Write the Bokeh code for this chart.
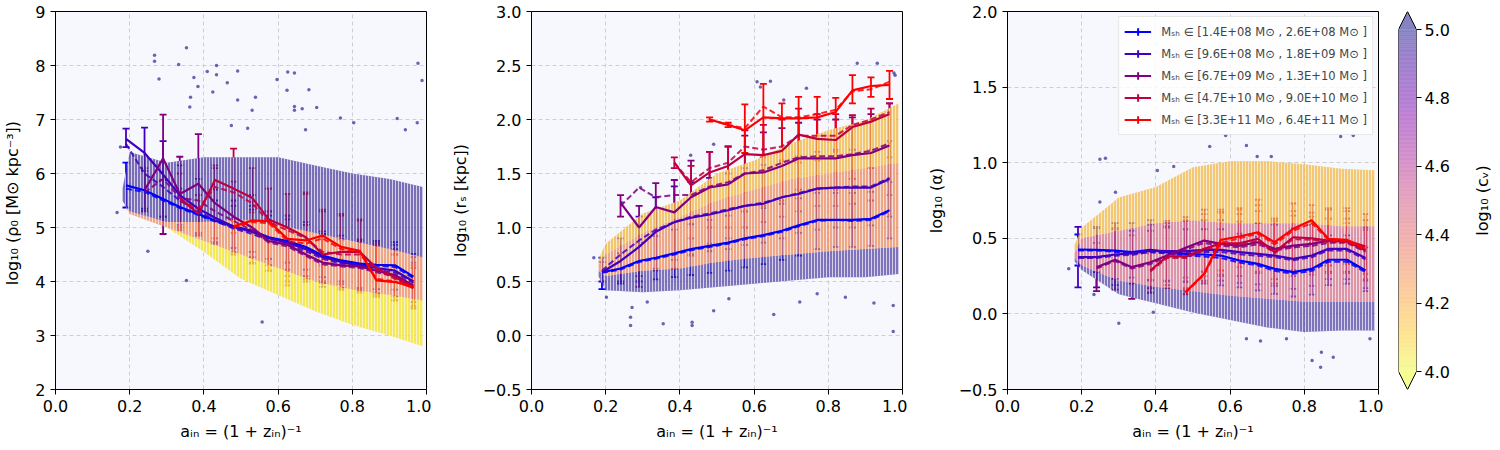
import numpy as np
from bokeh.plotting import figure
from bokeh.models import (Range1d, FixedTicker, Whisker, TeeHead, ColumnDataSource,
                          Legend, LegendItem, CustomJSTickFormatter)
from bokeh.core.properties import value
from bokeh.layouts import row
from bokeh.embed import file_html
from bokeh.resources import INLINE
from bokeh.palettes import Plasma256

nan = float("nan")
FONT = "DejaVu Sans"

# ---------------- data ----------------
A_BINS = [0.19, 0.24, 0.29, 0.335, 0.385, 0.43, 0.48, 0.53, 0.575, 0.625,
          0.675, 0.72, 0.77, 0.82, 0.865, 0.915, 0.965]

MASS_LABELS = [
    "Mₛₕ ∈ [1.4E+08 M⊙ , 2.6E+08 M⊙ ]",
    "Mₛₕ ∈ [9.6E+08 M⊙ , 1.8E+09 M⊙ ]",
    "Mₛₕ ∈ [6.7E+09 M⊙ , 1.3E+10 M⊙ ]",
    "Mₛₕ ∈ [4.7E+10 M⊙ , 9.0E+10 M⊙ ]",
    "Mₛₕ ∈ [3.3E+11 M⊙ , 6.4E+11 M⊙ ]",
]
MASS_COLORS = ["#0000ff", "#4000bf", "#800080", "#bf0040", "#ff0000"]

# ---- panel 1 : log10 rho0 ----
RHO_MED = [
    [5.78, 5.69, 5.53, 5.38, 5.25, 5.13, 5.02, 4.94, 4.82, 4.75, 4.64, 4.48, 4.39, 4.33, 4.31, 4.30, 4.09],
    [6.64, 6.38, 5.98, 5.60, 5.35, 5.18, 5.02, 4.92, 4.80, 4.72, 4.60, 4.45, 4.36, 4.30, 4.25, 4.20, 4.00],
    [nan, 5.69, 6.28, 5.62, 5.81, 5.45, 5.20, 5.00, 4.75, 4.68, 4.50, 4.35, 4.30, 4.28, 4.20, 4.12, 3.92],
    [nan, nan, nan, 5.55, 5.25, 5.88, 5.72, 5.55, 5.15, 5.00, 4.82, 4.50, 4.55, 4.55, 4.25, 4.08, 3.90],
    [nan, nan, nan, nan, nan, nan, 5.02, 5.13, 5.12, 4.79, 4.76, 4.85, 4.64, 4.57, 4.02, 3.99, 3.90],
]
RHO_MEAN = [
    [5.72, 5.66, 5.50, 5.36, 5.23, 5.11, 5.00, 4.92, 4.80, 4.73, 4.62, 4.46, 4.37, 4.31, 4.29, 4.27, 4.06],
    [6.55, 6.00, 5.75, 5.50, 5.30, 5.13, 4.98, 4.88, 4.76, 4.68, 4.56, 4.42, 4.33, 4.27, 4.22, 4.16, 3.97],
    [nan, 5.65, 5.90, 5.55, 5.50, 5.30, 5.12, 4.95, 4.72, 4.65, 4.47, 4.32, 4.28, 4.25, 4.17, 4.10, 3.88],
    [nan, nan, nan, 5.50, 5.35, 5.75, 5.65, 5.45, 5.10, 4.95, 4.80, 4.55, 4.50, 4.50, 4.22, 4.05, 3.87],
    [nan, nan, nan, nan, nan, nan, 5.00, 5.10, 5.08, 4.75, 4.70, 4.80, 4.60, 4.55, 4.05, 4.00, 3.88],
]
RHO_LO = [
    [5.37, 5.35, 5.20, 5.05, 4.90, 4.73, 4.62, 4.55, 4.42, 4.35, 4.22, 4.08, 4.00, 3.88, 3.86, 3.85, 3.62],
    [6.49, 5.31, 5.20, 5.00, 4.85, 4.70, 4.55, 4.45, 4.30, 4.22, 4.10, 3.97, 3.88, 3.82, 3.78, 3.72, 3.55],
    [nan, 5.30, 4.88, 4.95, 4.88, 4.70, 4.50, 4.35, 4.20, 4.10, 4.00, 3.90, 3.85, 3.80, 3.72, 3.65, 3.50],
    [nan, nan, nan, 5.00, 4.90, 4.80, 4.54, 4.33, 4.30, 4.00, 4.05, 4.00, 3.95, 3.85, 3.75, 3.65, 3.55],
    [nan, nan, nan, nan, nan, nan, 4.90, 4.98, 4.20, 3.93, 4.05, 4.30, 3.85, 3.80, 3.72, 3.65, 3.52],
]
RHO_HI = [
    [6.20, 6.05, 5.88, 5.72, 5.60, 5.50, 5.40, 5.33, 5.22, 5.15, 5.05, 4.88, 4.78, 4.76, 4.75, 4.73, 4.51],
    [6.83, 6.85, 6.60, 6.15, 5.90, 5.70, 5.50, 5.40, 5.30, 5.22, 5.10, 4.93, 4.85, 4.78, 4.72, 4.68, 4.45],
    [nan, 6.10, 7.09, 6.31, 6.73, 6.10, 5.85, 5.60, 5.30, 5.22, 5.05, 4.85, 4.78, 4.75, 4.68, 4.60, 4.35],
    [nan, nan, nan, 6.00, 5.60, 6.15, 6.46, 6.10, 5.72, 5.62, 5.62, 5.30, 5.22, 5.13, 4.72, 4.50, 4.25],
    [nan, nan, nan, nan, nan, nan, 5.12, 5.28, 5.72, 5.62, 5.65, 5.33, 5.25, 5.15, 4.70, 4.50, 4.30],
]

# ---- panel 2 : log10 r_s ----
RS_MED = [
    [0.586, 0.62, 0.69, 0.72, 0.76, 0.80, 0.83, 0.86, 0.90, 0.93, 0.97, 1.02, 1.07, 1.07, 1.07, 1.08, 1.16],
    [0.586, 0.69, 0.82, 0.96, 1.05, 1.09, 1.12, 1.16, 1.20, 1.22, 1.28, 1.31, 1.36, 1.37, 1.37, 1.37, 1.45],
    [nan, 1.23, 1.00, 1.19, 1.14, 1.28, 1.37, 1.40, 1.50, 1.51, 1.57, 1.64, 1.64, 1.64, 1.67, 1.69, 1.76],
    [nan, nan, nan, nan, 1.60, 1.39, 1.51, 1.57, 1.68, 1.67, 1.71, 1.86, 1.82, 1.81, 1.93, 1.98, 2.05],
    [nan, nan, nan, nan, nan, nan, 2.00, 1.95, 1.90, 2.02, 2.01, 2.01, 2.02, 2.07, 2.27, 2.31, 2.32],
]
RS_MEAN = [
    [0.58, 0.61, 0.68, 0.71, 0.75, 0.79, 0.82, 0.85, 0.89, 0.92, 0.96, 1.01, 1.06, 1.07, 1.06, 1.07, 1.15],
    [0.60, 0.75, 0.88, 0.98, 1.05, 1.10, 1.13, 1.17, 1.20, 1.23, 1.28, 1.32, 1.36, 1.37, 1.38, 1.38, 1.46],
    [nan, 1.20, 1.37, 1.28, 1.30, 1.30, 1.38, 1.42, 1.50, 1.53, 1.60, 1.65, 1.66, 1.66, 1.68, 1.71, 1.78],
    [nan, nan, nan, nan, 1.60, 1.42, 1.55, 1.60, 1.75, 1.72, 1.75, 1.85, 1.85, 1.85, 1.95, 2.00, 2.07],
    [nan, nan, nan, nan, nan, nan, 2.00, 1.95, 1.92, 2.12, 2.02, 2.02, 2.05, 2.09, 2.26, 2.28, 2.35],
]
RS_LO = [
    [0.43, 0.48, 0.50, 0.52, 0.54, 0.56, 0.58, 0.60, 0.63, 0.66, 0.70, 0.74, 0.80, 0.82, 0.82, 0.83, 0.90],
    [0.50, 0.50, 0.55, 0.62, 0.70, 0.74, 0.78, 0.80, 0.84, 0.86, 0.90, 0.95, 0.98, 1.00, 1.00, 1.02, 1.10],
    [nan, 1.10, 0.45, 0.60, 0.62, 0.75, 0.85, 0.90, 1.00, 1.05, 1.10, 1.15, 1.20, 1.20, 1.22, 1.25, 1.30],
    [nan, nan, nan, nan, 1.55, 0.90, 1.00, 1.00, 1.15, 1.20, 1.25, 1.35, 1.35, 1.35, 1.45, 1.55, 1.65],
    [nan, nan, nan, nan, nan, nan, 1.98, 1.93, 1.69, 1.65, 1.62, 1.60, 1.62, 1.70, 2.15, 2.21, 2.19],
]
RS_HI = [
    [0.72, 0.76, 0.86, 0.92, 0.98, 1.03, 1.07, 1.11, 1.15, 1.18, 1.22, 1.27, 1.32, 1.32, 1.32, 1.33, 1.42],
    [0.68, 0.90, 1.10, 1.28, 1.38, 1.42, 1.46, 1.50, 1.55, 1.58, 1.62, 1.66, 1.70, 1.72, 1.72, 1.72, 1.80],
    [nan, 1.30, 1.20, 1.41, 1.44, 1.62, 1.70, 1.75, 1.85, 1.88, 1.92, 1.97, 2.00, 2.00, 2.02, 2.05, 2.15],
    [nan, nan, nan, nan, 1.65, 1.57, 1.70, 1.75, 1.90, 1.95, 2.00, 2.10, 2.05, 2.05, 2.04, 2.10, 2.15],
    [nan, nan, nan, nan, nan, nan, 2.02, 1.97, 2.14, 2.33, 2.15, 2.21, 2.21, 2.20, 2.41, 2.39, 2.45],
]

# ---- panel 3 : log10 alpha ----
AL_MED = [
    [0.426, 0.423, 0.419, 0.408, 0.423, 0.408, 0.397, 0.393, 0.386, 0.353, 0.331, 0.298, 0.276, 0.298, 0.358, 0.358, 0.287],
    [0.375, 0.375, 0.393, 0.400, 0.419, 0.415, 0.415, 0.423, 0.423, 0.408, 0.397, 0.386, 0.364, 0.386, 0.430, 0.430, 0.370],
    [nan, 0.309, 0.358, 0.309, 0.342, 0.386, 0.437, 0.485, 0.463, 0.452, 0.474, 0.430, 0.452, 0.463, 0.485, 0.480, 0.419],
    [nan, nan, nan, nan, 0.287, 0.380, 0.380, 0.430, 0.467, 0.467, 0.497, 0.408, 0.507, 0.500, 0.485, 0.485, 0.445],
    [nan, nan, nan, nan, nan, nan, 0.144, 0.265, 0.490, 0.512, 0.540, 0.474, 0.563, 0.620, 0.497, 0.490, 0.430],
]
AL_MEAN = [
    [0.420, 0.420, 0.410, 0.400, 0.410, 0.400, 0.385, 0.380, 0.370, 0.340, 0.320, 0.285, 0.265, 0.285, 0.345, 0.345, 0.275],
    [0.370, 0.370, 0.385, 0.390, 0.410, 0.405, 0.405, 0.410, 0.410, 0.395, 0.385, 0.375, 0.355, 0.375, 0.420, 0.420, 0.360],
    [nan, 0.300, 0.350, 0.300, 0.330, 0.375, 0.425, 0.470, 0.450, 0.440, 0.460, 0.420, 0.440, 0.450, 0.470, 0.470, 0.410],
    [nan, nan, nan, nan, 0.280, 0.370, 0.370, 0.420, 0.455, 0.455, 0.485, 0.400, 0.495, 0.490, 0.475, 0.475, 0.435],
    [nan, nan, nan, nan, nan, nan, 0.140, 0.260, 0.470, 0.500, 0.530, 0.460, 0.550, 0.600, 0.490, 0.480, 0.420],
]
AL_LO = [
    [0.320, 0.276, 0.232, 0.240, 0.225, 0.220, 0.210, 0.200, 0.188, 0.176, 0.155, 0.133, 0.115, 0.128, 0.190, 0.200, 0.150],
    [0.175, 0.175, 0.190, 0.200, 0.220, 0.215, 0.215, 0.220, 0.220, 0.205, 0.195, 0.185, 0.165, 0.185, 0.230, 0.230, 0.170],
    [nan, 0.150, 0.160, 0.100, 0.140, 0.190, 0.240, 0.280, 0.260, 0.250, 0.270, 0.230, 0.250, 0.260, 0.280, 0.280, 0.220],
    [nan, nan, nan, nan, 0.170, 0.170, 0.170, 0.210, 0.250, 0.250, 0.280, 0.200, 0.290, 0.280, 0.270, 0.270, 0.230],
    [nan, nan, nan, nan, nan, nan, 0.130, 0.250, 0.287, 0.309, 0.331, 0.300, 0.360, 0.450, 0.320, 0.330, 0.265],
]
AL_HI = [
    [0.525, 0.567, 0.567, 0.550, 0.590, 0.570, 0.560, 0.560, 0.560, 0.530, 0.510, 0.470, 0.440, 0.470, 0.520, 0.520, 0.440],
    [0.575, 0.575, 0.600, 0.600, 0.620, 0.615, 0.615, 0.620, 0.620, 0.610, 0.600, 0.590, 0.565, 0.590, 0.630, 0.630, 0.570],
    [nan, 0.470, 0.560, 0.520, 0.550, 0.580, 0.640, 0.690, 0.670, 0.660, 0.680, 0.630, 0.650, 0.670, 0.690, 0.680, 0.620],
    [nan, nan, nan, nan, 0.400, 0.600, 0.620, 0.660, 0.690, 0.690, 0.720, 0.630, 0.730, 0.720, 0.700, 0.700, 0.660],
    [nan, nan, nan, nan, nan, nan, 0.160, 0.280, 0.675, 0.700, 0.755, 0.613, 0.680, 0.644, 0.630, 0.600, 0.556],
]

# ---- scatter cloud envelopes (read at these a values) ----
CLOUD_A = [0.18, 0.2, 0.3, 0.4, 0.5, 0.6, 0.7, 0.8, 0.9, 0.99]
RHO_CLOUD = [
    [5.50, 5.25, 5.00, 4.55, 4.05, 3.75, 3.45, 3.20, 3.00, 2.80],
    [5.50, 5.25, 5.00, 4.75, 4.50, 4.25, 4.00, 3.85, 3.75, 3.65],
    [5.50, 5.30, 5.10, 5.10, 5.15, 5.05, 4.90, 4.75, 4.60, 4.45],
    [5.70, 6.40, 6.20, 6.30, 6.30, 6.30, 6.15, 6.00, 5.90, 5.75],
]
RS_CLOUD = [
    [0.55, 0.42, 0.40, 0.42, 0.45, 0.48, 0.51, 0.54, 0.54, 0.57],
    [0.60, 0.55, 0.60, 0.62, 0.68, 0.72, 0.75, 0.78, 0.80, 0.82],
    [0.65, 0.75, 0.95, 1.10, 1.25, 1.35, 1.45, 1.50, 1.55, 1.60],
    [0.70, 0.85, 1.13, 1.25, 1.50, 1.62, 1.78, 1.90, 1.99, 2.15],
]
AL_CLOUD = [
    [0.35, 0.29, 0.13, 0.07, 0.01, -0.04, -0.09, -0.12, -0.11, -0.11],
    [0.37, 0.32, 0.22, 0.18, 0.15, 0.12, 0.10, 0.08, 0.08, 0.08],
    [0.40, 0.50, 0.55, 0.60, 0.62, 0.60, 0.60, 0.60, 0.58, 0.58],
    [0.45, 0.57, 0.77, 0.84, 0.97, 1.01, 1.01, 0.99, 0.96, 0.95],
]

# ---- isolated points outside the cloud ----
RHO_OUT_A = [0.267, 0.267, 0.279, 0.332, 0.353, 0.409, 0.434, 0.434, 0.463, 0.491, 0.384, 0.373, 0.424,
             0.364, 0.362, 0.530, 0.539, 0.491, 0.597, 0.624, 0.626, 0.644, 0.644, 0.644, 0.683, 0.665,
             0.674, 0.704, 0.768, 0.804, 0.921, 0.977, 0.988, 0.975, 0.943, 0.353, 0.249, 0.166, 0.175,
             0.557, 0.518, 0.474]
RHO_OUT_Y = [8.19, 8.08, 7.75, 8.02, 8.33, 7.89, 8.00, 7.83, 7.68, 7.90, 7.61, 7.78, 7.51,
             7.41, 7.23, 7.17, 7.41, 7.36, 7.74, 7.54, 7.88, 7.86, 7.24, 7.17, 7.55, 7.20,
             6.81, 7.22, 7.03, 6.94, 7.02, 8.04, 7.72, 6.94, 6.81, 4.02, 4.56, 5.28, 6.49,
             3.25, 6.84, 6.89]
RS_OUT_A = [0.267, 0.267, 0.355, 0.433, 0.433, 0.491, 0.653, 0.975, 0.975, 0.923, 0.846, 0.770,
            0.723, 0.532, 0.312, 0.271, 0.202, 0.168, 0.608, 0.644, 0.617, 0.741, 0.878, 0.932,
            0.977, 0.980, 0.680, 0.491, 0.429, 0.294, 0.244]
RS_OUT_Y = [0.093, 0.17, 0.108, 0.093, 0.123, 0.23, 0.195, 0.037, 0.278, 0.30, 0.355, 0.386,
            0.31, 0.34, 0.31, 0.26, 0.355, 0.72, 2.35, 2.355, 2.30, 2.29, 2.52, 2.52,
            2.43, 2.41, 2.18, 1.77, 1.67, 1.37, 1.23]
AL_OUT_A = [0.844, 0.821, 0.878, 0.846, 0.682, 0.644, 0.752, 0.977, 0.300, 0.233, 0.249, 0.249,
            0.291, 0.165, 0.545, 0.588, 0.898, 0.932, 0.644, 0.673, 0.711, 0.393, 0.404, 0.448, 0.264]
AL_OUT_Y = [-0.353, -0.308, -0.286, -0.253, -0.18, -0.165, -0.165, -0.165, -0.062, 0.128, 1.023, 0.74,
            0.805, 0.298, 1.107, 1.18, 1.173, 1.18, 1.114, 1.041, 1.041, 0.011, 0.948, 0.975, 1.03]

CB_TICKS = [4.0, 4.2, 4.4, 4.6, 4.8, 5.0]
CB_LABEL = "log₁₀ (cᵥ)"

# ---------------- styling helpers ----------------
BG = "#f7f8fe"
PURPLE = "#3f2c98"
MAGENTA = "#d2647e"
ORANGE = "#ec8656"
GOLD = "#f2b63c"
YELLOW = "#f3e22e"
TICK_FS = "16px"


def blend(hexcol, alpha=0.5):
    h = hexcol.lstrip("#")
    r, g, b = int(h[0:2], 16), int(h[2:4], 16), int(h[4:6], 16)
    r = int(round(r * alpha + 255 * (1 - alpha)))
    g = int(round(g * alpha + 255 * (1 - alpha)))
    b = int(round(b * alpha + 255 * (1 - alpha)))
    return "#%02x%02x%02x" % (r, g, b)


def style_axes(p, fmt_digits):
    for ax in p.axis:
        ax.major_tick_out = 5
        ax.major_tick_in = 0
        ax.minor_tick_out = 0
        ax.minor_tick_in = 0
        ax.axis_line_color = "black"
        ax.major_tick_line_color = "black"
        ax.major_label_text_font = FONT
        ax.major_label_text_font_size = TICK_FS
        ax.major_label_text_color = "black"
        ax.axis_label_text_font = FONT
        ax.axis_label_text_font_size = TICK_FS
        ax.axis_label_text_font_style = "normal"
        ax.axis_label_text_color = "black"
        ax.major_label_standoff = 5
    p.yaxis.axis_label_standoff = 10
    p.xaxis.axis_label_standoff = 7
    p.xaxis.ticker = FixedTicker(ticks=[0.0, 0.2, 0.4, 0.6, 0.8, 1.0])
    p.xaxis.formatter = CustomJSTickFormatter(code="return tick.toFixed(1);")
    p.yaxis.formatter = CustomJSTickFormatter(
        code="return tick.toFixed(%d).replace('-', '\\u2212');" % fmt_digits)
    p.grid.grid_line_color = "#c4c4c4"
    p.grid.grid_line_dash = "4 3"
    p.grid.grid_line_width = 0.8
    p.outline_line_color = "black"
    p.outline_line_width = 1
    p.outline_line_alpha = 1


def make_panel(yr, yticks, digits, ylabel, cloud, band_cols, out_a, out_y,
               med, mean, lo, hi, left):
    p = figure(frame_width=371, frame_height=378, x_range=Range1d(0, 1),
               y_range=Range1d(*yr), output_backend="svg", toolbar_location=None,
               min_border_left=left, min_border_right=5, min_border_top=11,
               min_border_bottom=58, background_fill_color=BG,
               border_fill_color="white")
    style_axes(p, digits)
    p.yaxis.ticker = FixedTicker(ticks=yticks)
    p.xaxis.axis_label = "aᵢₙ = (1 + zᵢₙ)⁻¹"
    p.yaxis.axis_label = ylabel

    # cloud of individual subhaloes, drawn as layered bands
    for i in range(3):
        col, alp = band_cols[i]
        p.varea(x=CLOUD_A, y1=cloud[i], y2=cloud[i + 1], fill_color=col,
                fill_alpha=alp, hatch_pattern="vertical_line", hatch_color=BG,
                hatch_alpha=0.7, hatch_scale=3, hatch_weight=1)
    p.scatter(out_a, out_y, size=3.5, marker="circle", fill_color="#2d2391",
              fill_alpha=0.7, line_color=None)

    a = np.array(A_BINS)
    line_rs = []
    for k in range(5):
        m = np.array(med[k])
        ok = ~np.isnan(m)
        c = MASS_COLORS[k]
        src = ColumnDataSource(dict(x=a[ok], lo=np.array(lo[k])[ok],
                                    hi=np.array(hi[k])[ok]))
        w = Whisker(base="x", lower="lo", upper="hi", source=src,
                    dimension="height", line_color=c, line_width=1.8,
                    upper_head=TeeHead(size=7, line_color=c, line_width=1.8),
                    lower_head=TeeHead(size=7, line_color=c, line_width=1.8))
        p.add_layout(w)
        r = p.line(a[ok], m[ok], line_color=c, line_width=2.2)
        p.line(a[ok], np.array(mean[k])[ok], line_color=c, line_width=2,
               line_dash="6 3", line_alpha=0.85)
        line_rs.append(r)
    return p, line_rs


p1, _ = make_panel((2, 9), [2, 3, 4, 5, 6, 7, 8, 9], 0,
                   "log₁₀ (ρ₀ [M⊙  kpc⁻³])", RHO_CLOUD,
                   [(YELLOW, 0.8), (ORANGE, 0.72), (PURPLE, 0.68)],
                   RHO_OUT_A, RHO_OUT_Y, RHO_MED, RHO_MEAN, RHO_LO, RHO_HI, 55)
p2, _ = make_panel((-0.5, 3.0), [-0.5, 0, 0.5, 1.0, 1.5, 2.0, 2.5, 3.0], 1,
                   "log₁₀ (rₛ [kpc])", RS_CLOUD,
                   [(PURPLE, 0.65), (ORANGE, 0.72), (GOLD, 0.75)],
                   RS_OUT_A, RS_OUT_Y, RS_MED, RS_MEAN, RS_LO, RS_HI, 100)
p3, lines3 = make_panel((-0.5, 2.0), [-0.5, 0, 0.5, 1.0, 1.5, 2.0], 1,
                        "log₁₀ (α)", AL_CLOUD,
                        [(PURPLE, 0.65), (MAGENTA, 0.68), (GOLD, 0.72)],
                        AL_OUT_A, AL_OUT_Y, AL_MED, AL_MEAN, AL_LO, AL_HI, 100)

items = []
for k in range(5):
    c = MASS_COLORS[k]
    mk = p3.scatter(x=[nan], y=[nan], marker="cross", size=14,
                    line_color=c, line_width=2)
    items.append(LegendItem(label=MASS_LABELS[k], renderers=[lines3[k], mk]))
legend = Legend(items=items, location="top_right", label_text_font=FONT,
                label_text_font_size="11.5px", glyph_width=27, glyph_height=19,
                label_height=19, spacing=3, padding=5, margin=5,
                label_standoff=10, border_line_color="#d0d0d0",
                border_line_width=1, background_fill_color="white",
                background_fill_alpha=0.8)
p3.add_layout(legend)

# ---------------- colour bar ----------------
lo_t, hi_t = CB_TICKS[0], CB_TICKS[-1]
ext = (hi_t - lo_t) * 18.0 / 342.0
cb = figure(frame_width=18, frame_height=378, x_range=Range1d(0, 1),
            y_range=Range1d(lo_t - ext, hi_t + ext), output_backend="svg",
            toolbar_location=None, y_axis_location="right", min_border_left=15,
            min_border_right=44, min_border_top=11, min_border_bottom=58,
            background_fill_color="white", border_fill_color="white")
cb.xaxis.visible = False
cb.grid.visible = False
cb.outline_line_color = None
pal = list(reversed(Plasma256))
n = len(pal)
edges = np.linspace(lo_t, hi_t, n + 1)
cols = [blend(c, 0.5) for c in pal]
cb.quad(left=0, right=1, bottom=edges[:-1], top=edges[1:], fill_color=cols,
        line_color=cols, line_width=0.6)
cb.patch([0, 1, 0.5], [hi_t, hi_t, hi_t + ext], fill_color=cols[-1], line_color=None)
cb.patch([0, 1, 0.5], [lo_t, lo_t, lo_t - ext], fill_color=cols[0], line_color=None)
cb.line([0, 0, 0.5, 1, 1, 0.5, 0], [lo_t, hi_t, hi_t + ext, hi_t, lo_t, lo_t - ext, lo_t],
        line_color="black", line_width=1)
cb.yaxis.ticker = FixedTicker(ticks=CB_TICKS)
cb.yaxis.formatter = CustomJSTickFormatter(code="return tick.toFixed(1);")
cb.yaxis.axis_line_color = None
cb.yaxis.major_tick_out = 5
cb.yaxis.major_tick_in = 0
cb.yaxis.minor_tick_out = 0
cb.yaxis.major_label_standoff = 3
cb.yaxis.major_label_text_font = FONT
cb.yaxis.major_label_text_font_size = TICK_FS
cb.yaxis.major_label_text_color = "black"

# colour-bar title, reading bottom-to-top, in its own narrow strip
lab = figure(frame_width=24, frame_height=378, x_range=Range1d(0, 1),
             y_range=Range1d(lo_t - ext, hi_t + ext), output_backend="svg",
             toolbar_location=None, min_border_left=10, min_border_right=0,
             min_border_top=11, min_border_bottom=58,
             background_fill_color="white", border_fill_color="white")
lab.axis.visible = False
lab.grid.visible = False
lab.outline_line_color = None
lab.text(x=[0.5], y=[(lo_t + hi_t) / 2], text=[CB_LABEL], angle=np.pi / 2,
         text_align="center", text_baseline="middle", text_font=value(FONT),
         text_font_size=TICK_FS, text_color="black")

layout = row(p1, p2, p3, cb, lab)
open("out.html", "w").write(file_html(layout, INLINE))
